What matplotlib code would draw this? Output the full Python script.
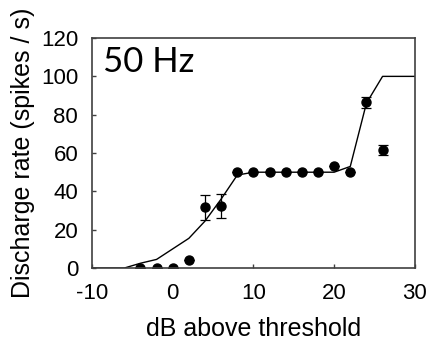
import numpy as np
import matplotlib
matplotlib.use('Agg')
import matplotlib.pyplot as plt

# Measured data (points with error bars)
db_pts = [-4, -2, 0, 2, 4, 6, 8, 10, 12, 14, 16, 18, 20, 22, 24, 26]
rate_pts = [0, 0, 0, 4, 31.6, 32.3, 50, 50, 50, 50, 50, 50, 53.4, 50, 86.5, 61.4]
rate_err = [0, 0, 0, 0, 6.3, 6.2, 0, 0, 0, 0, 0, 0, 0, 0, 2.8, 2.6]

# Model curve
db_model = [-10, -8, -6, -4, -2, 0, 2, 4, 6, 8, 10, 12, 14, 16, 18, 20, 22, 24, 26, 28, 30]
rate_model = [0, 0, 0, 2.5, 4.5, 10, 15.5, 24.5, 36, 48.5, 50, 50, 50, 50, 50, 50, 53, 86, 100, 100, 100]

plt.rcParams['font.family'] = ['Liberation Sans', 'DejaVu Sans']
plt.rcParams['axes.unicode_minus'] = False

fig = plt.figure(figsize=(4.29, 3.49), dpi=100)
ax = fig.add_axes([0.2145, 0.232, 0.7525, 0.659])

ax.plot(db_model, rate_model, color='black', linewidth=1.0)
ax.errorbar(db_pts, rate_pts, yerr=rate_err, fmt='o', color='black',
            markersize=6.5, elinewidth=0.9, capsize=3.5, capthick=0.9)

ax.set_xlim(-10, 30)
ax.set_ylim(0, 120)
ax.set_xticks([-10, 0, 10, 20, 30])
ax.set_yticks(np.arange(0, 121, 20))
ax.tick_params(direction='in', labelsize=16, length=3, width=1, color='#404040')
ax.tick_params(axis='x', pad=11)
ax.tick_params(axis='y', pad=10)
for s in ax.spines.values():
    s.set_color('#404040')
    s.set_linewidth(1.2)

ax.set_xlabel('dB above threshold', fontsize=18, labelpad=9)
ax.set_ylabel('Discharge rate (spikes / s)', fontsize=18, labelpad=4)
ax.text(0.035, 0.965, '50 Hz', transform=ax.transAxes, fontsize=25,
        family=['Lato', 'DejaVu Sans'], va='top', ha='left')

fig.savefig('out.png', dpi=100)
